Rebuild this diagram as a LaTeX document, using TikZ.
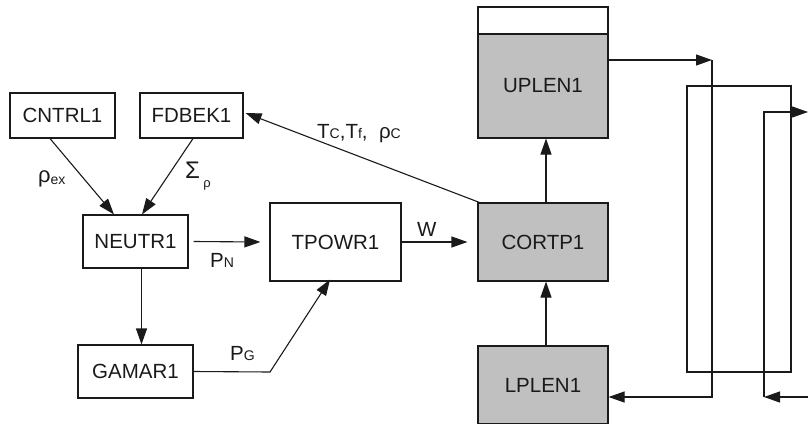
\documentclass[tikz,border=0pt]{standalone}
\usepackage{fontspec}
\setmainfont{Liberation Sans}
\usetikzlibrary{arrows.meta}
\definecolor{boxgray}{HTML}{C0C0C0}
\definecolor{ink}{HTML}{1A1A1A}
\newcommand{\sm}[1]{{\fontsize{14}{14}\selectfont #1}}
\tikzset{
  blk/.style={draw=ink, line width=1.1pt, inner sep=0pt, font=\fontsize{20.5}{24}\selectfont, text=ink},
  gblk/.style={blk, fill=boxgray},
  arr/.style={draw=ink, line width=1.1pt, -{Triangle[length=16pt,width=11pt]}},
  ln/.style={draw=ink, line width=1.1pt},
  lbl/.style={font=\fontsize{20.5}{24}\selectfont, text=ink, inner sep=0pt, anchor=base west}
}
\begin{document}
\begin{tikzpicture}[x=1pt,y=-1pt]
\useasboundingbox (0,0) rectangle (808,423);
% blocks
\node[blk, minimum width=105pt, minimum height=45pt] (CNTRL1) at (62.5,115.5) {CNTRL1};
\node[blk, minimum width=103pt, minimum height=45pt] (FDBEK1) at (191.5,115.5) {FDBEK1};
\node[blk, minimum width=105pt, minimum height=53pt] (NEUTR1) at (135.5,241.5) {NEUTR1};
\node[blk, minimum width=115pt, minimum height=53pt] (GAMAR1) at (135.5,371.5) {GAMAR1};
\node[blk, minimum width=131pt, minimum height=78pt] (TPOWR1) at (335.5,242) {TPOWR1};
\node[gblk, minimum width=130pt, minimum height=78pt] (CORTP1) at (543,242) {CORTP1};
\node[gblk, minimum width=130pt, minimum height=104pt] (UPLEN1) at (543,86) {UPLEN1};
\node[blk, minimum width=130pt, minimum height=27pt] (UPTOP) at (543,20.5) {};
\node[gblk, minimum width=130pt, minimum height=78pt] (LPLEN1) at (543,385) {LPLEN1};
% connectors
\draw[arr] ([xshift=-12.5pt]CNTRL1.south) -- ([xshift=-21.5pt]NEUTR1.north);
\draw[arr] ([xshift=1.5pt]FDBEK1.south) -- ([xshift=6.5pt]NEUTR1.north);
\draw[arr] ([xshift=2pt]CORTP1.north west) -- ([xshift=2pt,yshift=2.5pt]FDBEK1.east);
\draw[arr] ([xshift=5pt]NEUTR1.east) -- ([xshift=-9pt]TPOWR1.west);
\draw[arr] (TPOWR1.east) -- ([xshift=-10pt]CORTP1.west);
\draw[arr] ([xshift=6pt]NEUTR1.south) -- ([xshift=6pt]GAMAR1.north);
\coordinate (g1) at (270,372);
\draw[arr] (GAMAR1.east) -- (g1) -- ([xshift=-5.5pt,yshift=2pt]TPOWR1.south);
\draw[arr] ([xshift=3pt]CORTP1.north) -- ([xshift=3pt]UPLEN1.south);
\draw[arr] ([xshift=3pt]LPLEN1.north) -- ([xshift=3pt]CORTP1.south);
% right-hand loops
\coordinate (a1) at (712,60);
\coordinate (a2) at (712,397);
\draw[arr] ([yshift=26pt]UPLEN1.east) -- (a1);
\draw[arr] (a1) -- (a2) -- (LPLEN1.east |- a2);
\draw[ln] (687,86) rectangle (791,372);
\coordinate (b1) at (764,112);
\coordinate (b2) at (764,397);
\coordinate (e1) at (808,112);
\coordinate (e2) at (810,397);
\draw[arr] (e2) -- (b2);
\draw[arr] (b2) -- (b1) -- (e1);
% labels
\node[lbl] (lrho) at (38,184) {\raisebox{2pt}{\fontsize{22}{24}\selectfont ρ}\sm{ex}};
\node[lbl] (lsig) at (185,178) {{\fontsize{24}{26}\selectfont Σ}\,\raisebox{-9pt}{\fontsize{13}{13}\selectfont ρ}};
\node[lbl] (ltc) at (317,138) {T\sm{C},T\sm{f},~~ρ\sm{C}};
\node[lbl] (lpn) at (210,267) {P\sm{N}};
\node[lbl] (lw) at (417,236) {W};
\node[lbl] (lpg) at (230,360) {P\sm{G}};
\end{tikzpicture}
\end{document}
